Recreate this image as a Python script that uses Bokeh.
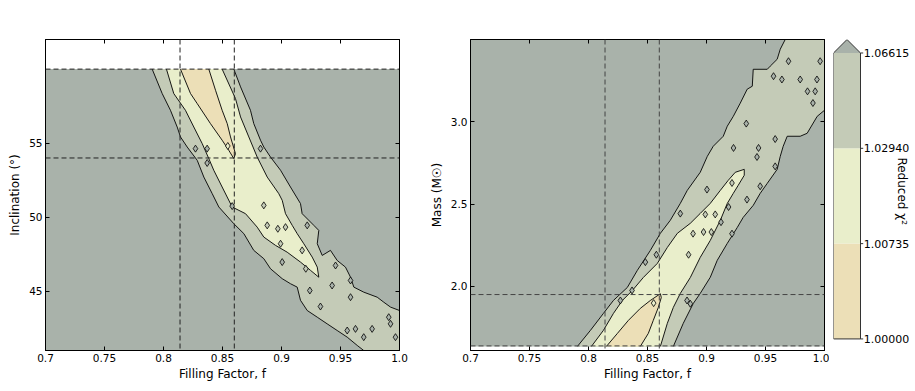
from bokeh.plotting import figure
from bokeh.layouts import row
from bokeh.models import Range1d, FixedTicker, LinearAxis, Span
from bokeh.embed import file_html
from bokeh.resources import INLINE
from bokeh.core.properties import value

# ---------------- data ----------------
f_ticks = [0.7, 0.75, 0.8, 0.85, 0.9, 0.95, 1.0]
f_tick_labels = ["0.7", "0.75", "0.8", "0.85", "0.9", "0.95", "1.0"]
incl_ticks = [45, 50, 55]
incl_tick_labels = ["45", "50", "55"]
mass_ticks = [2.0, 2.5, 3.0]
mass_tick_labels = ["2.0", "2.5", "3.0"]

f_range = [0.7, 1.0]
incl_axis_range = [41.0, 62.0]
incl_grid_range = [41.0, 60.0]
mass_axis_range = [1.61, 3.5]
mass_grid_range = [1.635, 3.5]

chi2_levels = [1.00000, 1.00735, 1.02940, 1.06615]
chi2_labels = ["1.00000", "1.00735", "1.02940", "1.06615"]
band_colors = ["#ecdfb7", "#e9eecb", "#c4cbb7", "#a9b2aa"]  # <1.00735, <1.0294, <1.06615, above

best_f = [0.814, 0.86]
best_incl = [54.0, 60.0]
best_mass = [1.95, 1.638]

# --- inclination panel: contour boundaries (filling factor, inclination) ---
inc_l3_left_f = [0.7904, 0.7989, 0.8059, 0.8116, 0.8144, 0.8201, 0.8286, 0.8342, 0.8413, 0.8469,
                 0.8596, 0.8681, 0.8765, 0.8850, 0.8907, 0.9006, 0.9076, 0.9133, 0.9161, 0.9218,
                 0.9303, 0.9387, 0.9472, 0.9557, 0.9642, 0.9697]
inc_l3_left_i = [60.0, 58.35, 57.22, 56.09, 55.42, 54.74, 53.84, 52.71, 51.59, 50.69,
                 49.56, 48.89, 47.76, 47.20, 46.52, 45.85, 45.51, 45.28, 44.39, 43.70,
                 43.25, 42.80, 42.35, 41.90, 41.34, 41.0]
inc_l3_right_f = [0.8596, 0.8653, 0.8737, 0.8765, 0.8822, 0.8850, 0.8907, 0.8992, 0.9076, 0.9161,
                  0.9175, 0.9274, 0.9316, 0.9303, 0.9345, 0.9415, 0.9472, 0.9542, 0.9585, 0.9613,
                  0.9697, 0.9811, 0.9867, 0.9924, 1.0]
inc_l3_right_i = [60.0, 58.80, 57.22, 56.32, 55.20, 54.74, 54.06, 53.17, 52.04, 50.92,
                  50.24, 49.45, 49.11, 48.21, 47.42, 47.76, 47.08, 46.63, 45.95, 45.28,
                  44.94, 44.60, 44.26, 43.93, 43.70]
inc_l2_left_f = [0.8025, 0.8087, 0.8186, 0.8257, 0.8328, 0.8384, 0.8426, 0.8497, 0.8582, 0.8695,
                 0.8794, 0.8850, 0.8949, 0.9048, 0.9161, 0.9246, 0.9316]
inc_l2_left_i = [60.0, 58.35, 57.22, 56.09, 54.97, 53.96, 53.17, 52.04, 50.69, 50.24,
                 49.33, 48.66, 48.10, 47.64, 46.97, 46.41, 45.95]
inc_l2_right_f = [0.9303, 0.9260, 0.9189, 0.9133, 0.9091, 0.9034, 0.9006, 0.8977, 0.8879, 0.8794,
                  0.8723, 0.8653, 0.8610, 0.8497]
inc_l2_right_i = [46.63, 47.31, 48.21, 48.89, 49.45, 50.24, 51.14, 51.59, 52.71, 54.06,
                  55.42, 56.77, 58.01, 60.0]
inc_l1_left_f = [0.8144, 0.8229, 0.8286, 0.8398, 0.8497, 0.8553, 0.8596]
inc_l1_left_i = [60.0, 58.35, 57.67, 56.32, 55.20, 54.52, 53.96]
inc_l1_right_f = [0.8610, 0.8568, 0.8540, 0.8497, 0.8441, 0.8384]
inc_l1_right_i = [54.29, 55.42, 56.32, 57.22, 58.57, 60.0]

inc_isl_f = [0.8271, 0.8370, 0.8545, 0.8370, 0.8822, 0.8582, 0.8850, 0.8879, 0.8969, 0.9034,
             0.8992, 0.9175, 0.9218, 0.9006, 0.9206, 0.9458, 0.9585, 0.9429, 0.9240, 0.9330,
             0.9585, 0.9909, 0.9768, 0.9627, 0.9557, 0.9697, 0.9966, 0.9924]
inc_isl_i = [54.63, 54.63, 54.81, 53.66, 54.63, 50.75, 50.80, 49.45, 49.22, 49.33,
             48.21, 47.76, 49.45, 46.97, 46.52, 46.74, 45.73, 45.39, 45.05, 43.97,
             44.60, 43.25, 42.46, 42.46, 42.35, 41.90, 41.90, 42.80]
inc_isl_band = [3, 3, 1, 3, 3, 3, 2, 2, 2, 2,
                2, 2, 3, 3, 2, 3, 3, 3, 3, 3,
                3, 3, 3, 3, 3, 3, 3, 3]

# --- mass panel: contour boundaries (filling factor, mass) ---
mass_l3_left_f = [0.7906, 0.8016, 0.8126, 0.8211, 0.8329, 0.8414, 0.8524, 0.8609, 0.8693, 0.8778,
                  0.8837, 0.8947, 0.9007, 0.9057, 0.9142, 0.9176, 0.9227, 0.9286, 0.9345, 0.9388,
                  0.9396, 0.9515, 0.9540, 0.9599, 0.9625, 0.9667]
mass_l3_left_m = [1.635, 1.732, 1.835, 1.914, 1.993, 2.097, 2.218, 2.322, 2.401, 2.504,
                  2.583, 2.693, 2.790, 2.851, 2.912, 2.973, 3.033, 3.113, 3.198, 3.216,
                  3.319, 3.319, 3.338, 3.380, 3.441, 3.5]
mass_l3_right_f = [1.0, 0.9938, 0.9853, 0.9794, 0.9684, 0.9650, 0.9625, 0.9599, 0.9515, 0.9455,
                   0.9396, 0.9311, 0.9261, 0.9176, 0.9091, 0.9032, 0.8947, 0.8888, 0.8803, 0.8719]
mass_l3_right_m = [3.070, 3.033, 2.930, 2.912, 2.912, 2.851, 2.790, 2.711, 2.626, 2.565,
                   2.492, 2.419, 2.358, 2.261, 2.158, 2.055, 1.957, 1.896, 1.775, 1.635]
mass_l2_left_f = [0.8025, 0.8126, 0.8211, 0.8287, 0.8372, 0.8465, 0.8583, 0.8668, 0.8753, 0.8863,
                  0.8947, 0.9032, 0.9117, 0.9184, 0.9244, 0.9320]
mass_l2_left_m = [1.635, 1.732, 1.835, 1.914, 1.975, 2.054, 2.139, 2.236, 2.322, 2.383,
                  2.443, 2.504, 2.583, 2.644, 2.693, 2.711]
mass_l2_right_f = [0.9320, 0.9269, 0.9227, 0.9176, 0.9117, 0.9032, 0.8947, 0.8863, 0.8778, 0.8719,
                   0.8668, 0.8609]
mass_l2_right_m = [2.675, 2.614, 2.565, 2.504, 2.401, 2.279, 2.176, 2.054, 1.957, 1.872,
                   1.775, 1.635]
mass_l1_left_f = [0.8152, 0.8245, 0.8338, 0.8439, 0.8524, 0.8609]
mass_l1_left_m = [1.635, 1.714, 1.793, 1.866, 1.914, 1.955]
mass_l1_right_f = [0.8617, 0.8592, 0.8549, 0.8507, 0.8439]
mass_l1_right_m = [1.932, 1.872, 1.793, 1.714, 1.635]

mass_isl_f = [0.9695, 0.9963, 0.9568, 0.9639, 0.9794, 0.9936, 0.9921, 0.9856, 0.9902, 0.9337,
              0.9582, 0.9441, 0.9428, 0.9229, 0.9582, 0.9455, 0.9216, 0.9004, 0.9343, 0.8990,
              0.9074, 0.8975, 0.9041, 0.8886, 0.8848, 0.9187, 0.9123, 0.9216, 0.8575, 0.8369,
              0.8270, 0.8552, 0.8835, 0.8863, 0.8778, 0.8482]
mass_isl_m = [3.368, 3.368, 3.277, 3.257, 3.257, 3.257, 3.185, 3.185, 3.114, 2.989,
              2.895, 2.841, 2.786, 2.841, 2.729, 2.608, 2.628, 2.588, 2.527, 2.437,
              2.437, 2.330, 2.330, 2.320, 2.192, 2.482, 2.390, 2.320, 2.192, 1.975,
              1.914, 1.898, 1.914, 1.894, 2.442, 2.147]
mass_isl_band = [3, 3, 3, 3, 3, 3, 3, 3, 3, 3,
                 3, 3, 3, 3, 3, 3, 2, 3, 3, 2,
                 2, 2, 2, 2, 2, 3, 3, 3, 3, 3,
                 3, 1, 3, 3, 3, 3]

# ---------------- styling ----------------
FONT = "DejaVu Sans"
TICK_FS = "10.5px"
LABEL_FS = "12px"
H = 388
TOP = 39
BOTTOM = 38
LINE_W = 0.9


def style_axis(ax, ticks, labels, show_labels=True):
    ax.ticker = FixedTicker(ticks=ticks)
    ax.major_label_overrides = {t: s for t, s in zip(ticks, labels)}
    ax.major_tick_in = 4
    ax.major_tick_out = 0
    ax.minor_tick_line_color = None
    ax.axis_line_color = "black"
    ax.major_tick_line_color = "black"
    ax.major_label_text_font = FONT
    ax.major_label_text_font_size = TICK_FS
    ax.major_label_text_color = "black" if show_labels else None
    ax.major_label_standoff = 3
    ax.axis_label_text_font = FONT
    ax.axis_label_text_font_size = LABEL_FS
    ax.axis_label_text_font_style = "normal"
    ax.axis_label_text_color = "black"


def make_panel(width, bl, br, yr, yticks, ylabels, ylabel):
    p = figure(width=width, height=H, x_range=Range1d(*f_range), y_range=Range1d(*yr),
               output_backend="svg", toolbar_location=None,
               min_border_left=bl, min_border_right=br, min_border_top=TOP, min_border_bottom=BOTTOM)
    p.grid.visible = False
    p.outline_line_color = "black"
    p.outline_line_width = 1
    p.background_fill_color = "white"
    p.border_fill_color = "white"
    style_axis(p.xaxis[0], f_ticks, f_tick_labels)
    p.xaxis[0].axis_label = "Filling Factor, f"
    p.xaxis[0].axis_label_standoff = 2
    style_axis(p.yaxis[0], yticks, ylabels)
    p.yaxis[0].axis_label = ylabel
    p.yaxis[0].axis_label_standoff = 4
    top_ax = LinearAxis()
    style_axis(top_ax, f_ticks, f_tick_labels, show_labels=False)
    p.add_layout(top_ax, "above")
    right_ax = LinearAxis()
    style_axis(right_ax, yticks, ylabels, show_labels=False)
    p.add_layout(right_ax, "right")
    return p


def add_band(p, xs, ys, band):
    p.patch(xs, ys, fill_color=band_colors[band], line_color=None)


def add_line(p, xs, ys):
    p.line(xs, ys, line_color="black", line_width=LINE_W, line_join="round")


def add_islands(p, xs, ys, bands):
    p.scatter(xs, ys, marker="diamond", size=7,
              fill_color=[band_colors[b] for b in bands],
              line_color="black", line_width=0.8)


def add_spans(p, fvals, yvals, color):
    for fv in fvals:
        p.add_layout(Span(location=fv, dimension="height", line_color=color,
                          line_dash="5 3", line_width=1))
    for yv in yvals:
        p.add_layout(Span(location=yv, dimension="width", line_color=color,
                          line_dash="5 3", line_width=1))


# ---------------- left panel: inclination ----------------
p1 = make_panel(425, 45, 26, incl_axis_range, incl_ticks, incl_tick_labels, "Inclination (°)")
p1.quad(left=f_range[0], right=f_range[1], bottom=incl_grid_range[0], top=incl_grid_range[1],
        fill_color=band_colors[3], line_color=None)
add_band(p1, inc_l3_left_f + [f_range[1]] + inc_l3_right_f[::-1],
         inc_l3_left_i + [incl_grid_range[0]] + inc_l3_right_i[::-1], 2)
add_band(p1, inc_l2_left_f + inc_l2_right_f, inc_l2_left_i + inc_l2_right_i, 1)
add_band(p1, inc_l1_left_f + inc_l1_right_f, inc_l1_left_i + inc_l1_right_i, 0)
add_line(p1, inc_l3_left_f, inc_l3_left_i)
add_line(p1, inc_l3_right_f, inc_l3_right_i)
add_line(p1, inc_l2_left_f + inc_l2_right_f, inc_l2_left_i + inc_l2_right_i)
add_line(p1, inc_l1_left_f + inc_l1_right_f, inc_l1_left_i + inc_l1_right_i)
add_islands(p1, inc_isl_f, inc_isl_i, inc_isl_band)
add_spans(p1, best_f, best_incl, "#222222")

# ---------------- right panel: mass ----------------
p2 = make_panel(404, 45, 5, mass_axis_range, mass_ticks, mass_tick_labels, "Mass (M☉)")
p2.quad(left=f_range[0], right=f_range[1], bottom=mass_grid_range[0], top=mass_grid_range[1],
        fill_color=band_colors[3], line_color=None)
add_band(p2, mass_l3_left_f + [f_range[1]] + mass_l3_right_f,
         mass_l3_left_m + [mass_grid_range[1]] + mass_l3_right_m, 2)
add_band(p2, mass_l2_left_f + mass_l2_right_f, mass_l2_left_m + mass_l2_right_m, 1)
add_band(p2, mass_l1_left_f + mass_l1_right_f, mass_l1_left_m + mass_l1_right_m, 0)
add_line(p2, mass_l3_left_f, mass_l3_left_m)
add_line(p2, mass_l3_right_f, mass_l3_right_m)
add_line(p2, mass_l2_left_f + mass_l2_right_f, mass_l2_left_m + mass_l2_right_m)
add_line(p2, mass_l1_left_f + mass_l1_right_f, mass_l1_left_m + mass_l1_right_m)
add_islands(p2, mass_isl_f, mass_isl_m, mass_isl_band)
add_spans(p2, best_f, best_mass, "#444444")

# ---------------- colour bar ----------------
BAR_PX = 27.0        # bar width in pixels -> 1 data unit
BAND_PX = 98.9       # band height in pixels -> 1 data unit
EXT = 14.0 / BAND_PX  # extension triangle height
PAD_BOTTOM = 12.0 / BAND_PX
CB_W = 84
CB_BL = 4
n_bands = len(chi2_levels) - 1
p3 = figure(width=CB_W, height=H, output_backend="svg", toolbar_location=None,
            x_range=Range1d(0, (CB_W - CB_BL) / BAR_PX),
            y_range=Range1d(-PAD_BOTTOM, n_bands + EXT),
            min_border_left=CB_BL, min_border_right=0, min_border_top=TOP,
            min_border_bottom=BOTTOM - 12)
p3.grid.visible = False
p3.axis.visible = False
p3.outline_line_color = None
p3.background_fill_color = "white"
p3.border_fill_color = "white"
idx = list(range(n_bands))
p3.quad(left=0, right=1, bottom=idx, top=[i + 1 for i in idx],
        fill_color=band_colors[:n_bands], line_color=None)
p3.patch([0, 0.5, 1], [n_bands, n_bands + EXT, n_bands], fill_color=band_colors[3], line_color=None)
p3.line([0, 1, 1, 0.5, 0, 0], [0, 0, n_bands, n_bands + EXT, n_bands, 0],
        line_color="#333333", line_width=1)
lvl_idx = list(range(len(chi2_levels)))
p3.segment(x0=[1.0] * len(lvl_idx), y0=lvl_idx, x1=[1.1] * len(lvl_idx), y1=lvl_idx,
           line_color="#333333", line_width=1)
p3.text(x=[1.12] * len(lvl_idx), y=lvl_idx, text=chi2_labels,
        text_font=value(FONT), text_font_size="11px",
        text_baseline="middle", text_align="left", text_color="black")
p3.text(x=[2.52], y=[1.55], text=["Reduced χ²"], angle=-1.5707963,
        text_font=value(FONT), text_font_size="12px",
        text_baseline="middle", text_align="center", text_color="black")

layout = row(p1, p2, p3)
open("out.html", "w").write(file_html(layout, INLINE))
